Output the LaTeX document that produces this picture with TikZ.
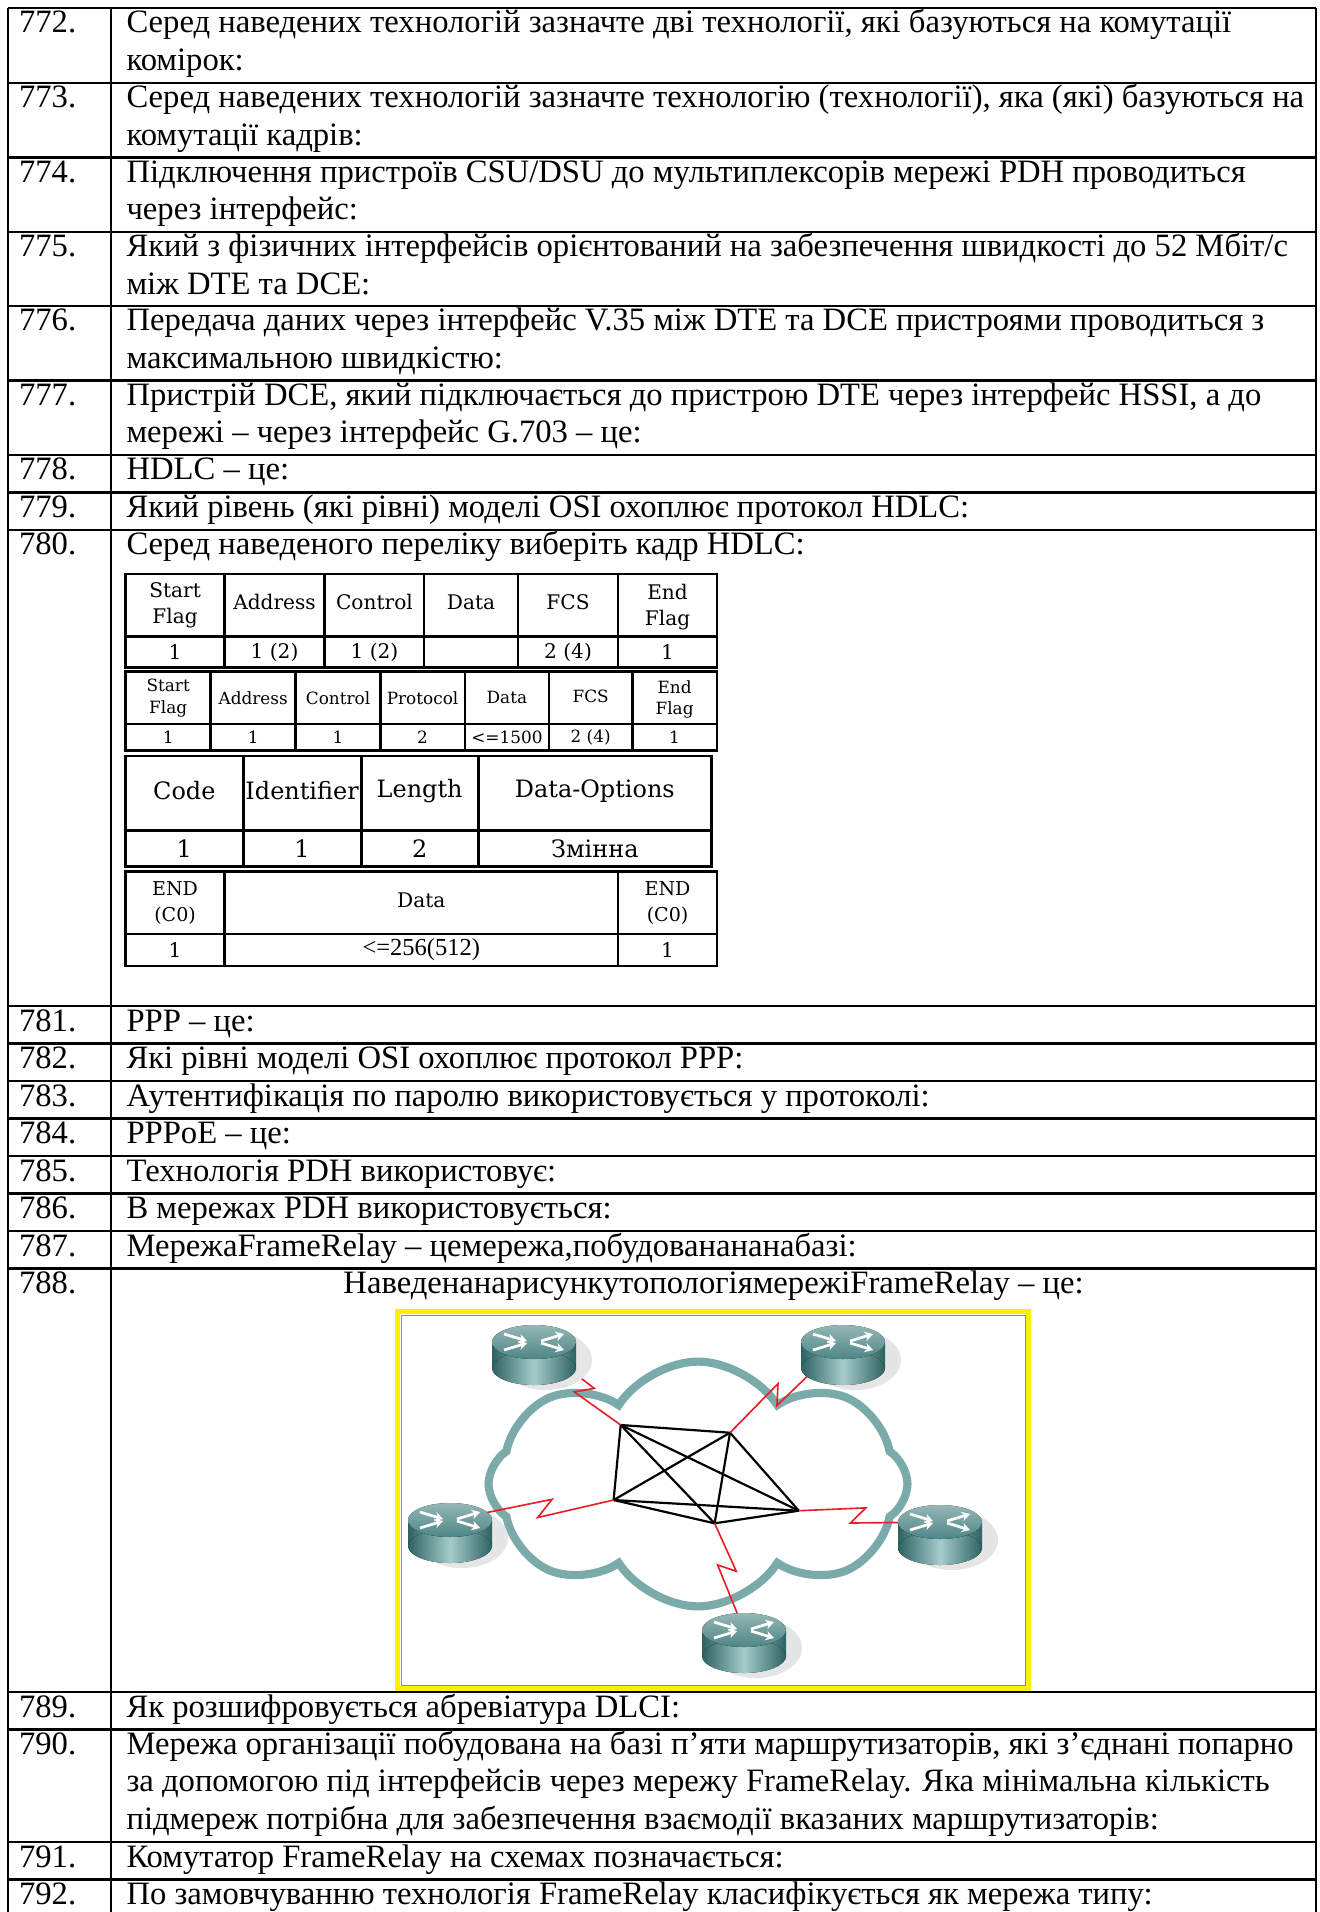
\documentclass[tikz,border=0pt]{standalone}
\usepackage{fontspec}
\setmainfont{Liberation Serif}
\newfontfamily\bookfont{DejaVu Serif}
\usetikzlibrary{shapes.symbols,calc,arrows.meta}

\definecolor{framey}{RGB}{255,240,0}
\definecolor{cloudc}{RGB}{122,170,170}
\definecolor{rdark}{RGB}{45,98,98}
\definecolor{rlight}{RGB}{165,204,202}
\definecolor{rtop}{RGB}{78,134,134}
\definecolor{linkred}{RGB}{232,30,40}

\begin{document}
\begin{tikzpicture}[x=0.3676pt,y=-0.3676pt,
   rule/.style={line width=1pt},
   cell/.style={line width=0.9pt},
   num/.style={anchor=base west,inner sep=0pt,font=\fontsize{12}{14}\selectfont},
   txt/.style={anchor=base west,inner sep=0pt,font=\fontsize{12}{14}\selectfont},
   hd/.style={align=center,inner sep=0pt,font=\bookfont\fontsize{7.4}{9.6}\selectfont},
   hds/.style={align=center,inner sep=0pt,font=\bookfont\fontsize{6.2}{8}\selectfont},
   hdl/.style={align=center,inner sep=0pt,font=\bookfont\fontsize{8.8}{10.5}\selectfont},
   link/.style={linkred,line width=0.6pt},
   mesh/.style={black,line width=0.8pt},
   router/.pic={
     \fill[black!10] (12,18) ellipse [x radius=46,y radius=30];
     \fill[left color=rdark,right color=rdark,middle color=rlight] (-42,0) rectangle (42,26);
     \fill[left color=rdark,right color=rdark,middle color=rlight] (0,26) ellipse [x radius=42,y radius=17];
     \fill[top color=rtop!60!white,bottom color=rtop] (0,0) ellipse [x radius=42,y radius=17];
     \draw[white,line width=1pt,-{Stealth[length=3pt,width=3.5pt]}] (-30,-8) -- (-7,-1);
     \draw[white,line width=1pt,-{Stealth[length=3pt,width=3.5pt]}] (-30,8) -- (-7,1);
     \draw[white,line width=1pt,-{Stealth[length=3pt,width=3.5pt]}] (7,-1) -- (30,-8);
     \draw[white,line width=1pt,-{Stealth[length=3pt,width=3.5pt]}] (7,1) -- (30,8);
   }]
\useasboundingbox (0,0) rectangle (1319,1912);

\foreach \y in {8,83,157.5,232,306,380.5,455,492.5,530,1006,1043.5,1081,1118.5,1156,1193.5,1231,1268.5,1692,1729.5,1842,1879.5,1917}
  \draw[rule] (8,\y) -- (1316,\y);
\foreach \x in {8,111,1316}
  \draw[rule] (\x,8) -- (\x,1917);

\node[num] (n772) at (18.5,33) {772.};
\node[txt] (q772) at (126,33) {Серед наведених технологій зазначте дві технології, які базуються на комутації};
\node[txt] (q772b) at (126,70.4) {комірок:};
\node[num] (n773) at (18.5,108) {773.};
\node[txt] (q773) at (126,108) {Серед наведених технологій зазначте технологію (технології), яка (які) базуються на};
\node[txt] (q773b) at (126,145.4) {комутації кадрів:};
\node[num] (n774) at (18.5,182.5) {774.};
\node[txt] (q774) at (126,182.5) {Підключення пристроїв CSU/DSU до мультиплексорів мережі PDH проводиться};
\node[txt] (q774b) at (126,219.9) {через інтерфейс:};
\node[num] (n775) at (18.5,257) {775.};
\node[txt] (q775) at (126,257) {Який з фізичних інтерфейсів орієнтований на забезпечення швидкості до 52 Мбіт/с};
\node[txt] (q775b) at (126,294.4) {між DTE та DCE:};
\node[num] (n776) at (18.5,331) {776.};
\node[txt] (q776) at (126,331) {Передача даних через інтерфейс V.35 між DTE та DCE пристроями проводиться з};
\node[txt] (q776b) at (126,368.4) {максимальною швидкістю:};
\node[num] (n777) at (18.5,405.5) {777.};
\node[txt] (q777) at (126,405.5) {Пристрій DCE, який підключається до пристрою DTE через інтерфейс HSSI, а до};
\node[txt] (q777b) at (126,442.9) {мережі – через інтерфейс G.703 – це:};
\node[num] (n778) at (18.5,480) {778.};
\node[txt] (q778) at (126,480) {HDLC – це:};
\node[num] (n779) at (18.5,517.5) {779.};
\node[txt] (q779) at (126,517.5) {Який рівень (які рівні) моделі OSI охоплює протокол HDLC:};
\node[num] (n780) at (18.5,555) {780.};
\node[txt] (q780) at (126,555) {Серед наведеного переліку виберіть кадр HDLC:};

\draw[cell] (125.7,574) rectangle (716.9,667.3);
\draw[cell] (125.7,636.7) -- (716.9,636.7);
\foreach \x in {224.4,324.7,424.2,517.9,618.2}
  \draw[cell] (\x,574) -- (\x,667.3);
\node[hd] (h1a) at (175.05,605.3) {Start\\Flag};
\node[hd] (h1b) at (274.55,602) {Address};
\node[hd] (h1c) at (374.45,602) {Control};
\node[hd] (h1d) at (471.05,602) {Data};
\node[hd] (h1e) at (568.05,602) {FCS};
\node[hd] (h1f) at (667.55,607) {End\\Flag};
\node[hd] (v1a) at (175.05,652) {1};
\node[hd] (v1b) at (274.55,652) {1 (2)};
\node[hd] (v1c) at (374.45,652) {1 (2)};
\node[hd] (v1e) at (568.05,652) {2 (4)};
\node[hd] (v1f) at (667.55,652) {1};

\draw[cell] (125.7,671.7) rectangle (716.9,750.7);
\draw[cell] (125.7,724) -- (716.9,724);
\foreach \x in {210.7,295.7,380.3,464.8,549,632.3}
  \draw[cell] (\x,671.7) -- (\x,750.7);
\node[hds] (h2a) at (168.2,697.9) {Start\\Flag};
\node[hds] (h2b) at (253.2,697.9) {Address};
\node[hds] (h2c) at (338,697.9) {Control};
\node[hds] (h2d) at (422.55,697.9) {Protocol};
\node[hds] (h2e) at (506.9,697.9) {Data};
\node[hds] (h2f) at (590.65,696) {FCS};
\node[hds] (h2g) at (674.6,699.5) {End\\Flag};
\node[hds] (v2a) at (168.2,737.3) {1};
\node[hds] (v2b) at (253.2,737.3) {1};
\node[hds] (v2c) at (338,737.3) {1};
\node[hds] (v2d) at (422.55,737.3) {2};
\node[hds] (v2e) at (506.9,737.3) {<=1500};
\node[hds] (v2f) at (590.65,737.3) {2 (4)};
\node[hds] (v2g) at (674.6,737.3) {1};

\draw[cell,line width=1.1pt] (125.7,756) rectangle (711.5,866.7);
\draw[cell,line width=1.1pt] (125.7,830) -- (711.5,830);
\foreach \x in {243,361.2,478.1}
  \draw[cell,line width=1.1pt] (\x,756) -- (\x,866.7);
\node[hdl] (h3a) at (184.35,791) {Code};
\node[hdl] (h3b) at (302.1,791) {Identifier};
\node[hdl] (h3c) at (419.65,791) {Length};
\node[hdl] (h3d) at (594.8,791) {Data-Options};
\node[hdl] (v3a) at (184.35,848.3) {1};
\node[hdl] (v3b) at (302.1,848.3) {1};
\node[hdl] (v3c) at (419.65,848.3) {2};
\node[hdl] (v3d) at (594.8,848.3) {Змінна};

\draw[cell] (125.7,871.7) rectangle (716.9,966);
\draw[cell] (125.7,934) -- (716.9,934);
\foreach \x in {224.4,618.2}
  \draw[cell] (\x,871.7) -- (\x,966);
\node[hd,font=\bookfont\fontsize{7}{9.4}\selectfont] (h4a) at (175.05,902.8) {END\\(C0)};
\node[hd] (h4b) at (421.3,900) {Data};
\node[hd,font=\bookfont\fontsize{7}{9.4}\selectfont] (h4c) at (667.55,902.8) {END\\(C0)};
\node[hd] (v4a) at (175.05,950) {1};
\node[hd,font=\fontsize{9}{10}\selectfont] (v4b) at (421.3,950) {<=256(512)};
\node[hd] (v4c) at (667.55,950) {1};

\node[num] (n781) at (18.5,1031) {781.};
\node[txt] (q781) at (126,1031) {PPP – це:};
\node[num] (n782) at (18.5,1068.5) {782.};
\node[txt] (q782) at (126,1068.5) {Які рівні моделі OSI охоплює протокол PPP:};
\node[num] (n783) at (18.5,1106) {783.};
\node[txt] (q783) at (126,1106) {Аутентифікація по паролю використовується у протоколі:};
\node[num] (n784) at (18.5,1143.5) {784.};
\node[txt] (q784) at (126,1143.5) {PPPoE – це:};
\node[num] (n785) at (18.5,1181) {785.};
\node[txt] (q785) at (126,1181) {Технологія PDH використовує:};
\node[num] (n786) at (18.5,1218.5) {786.};
\node[txt] (q786) at (126,1218.5) {В мережах PDH використовується:};
\node[num] (n787) at (18.5,1256) {787.};
\node[txt] (q787) at (126,1256) {МережаFrameRelay – цемережа,побудованананабазі:};
\node[num] (n788) at (18.5,1293.5) {788.};
\node[txt,anchor=base] (q788) at (713.5,1293.5) {НаведенанарисункутопологіямережіFrameRelay – це:};

\draw[framey,line width=1.6pt] (397.5,1311.5) rectangle (1028.5,1688.5);
\draw[black!45,line width=0.3pt] (401,1315) rectangle (1025,1685);
\node[cloud,cloud puffs=8,cloud puff arc=115,aspect=1.75,draw=cloudc,line width=3pt,minimum width=154pt,minimum height=90pt,inner sep=0pt] (fr) at (698,1484) {};

\coordinate (m1) at (620.7,1425);
\coordinate (m2) at (730,1432.7);
\coordinate (m3) at (613.6,1500);
\coordinate (m4) at (798.8,1510.7);
\coordinate (m5) at (714.6,1523.3);
\coordinate (r1) at (534,1342);
\coordinate (r2) at (843,1342);
\coordinate (r3) at (450,1520);
\coordinate (r4) at (940,1522);
\coordinate (r5) at (744,1630);
\foreach \a/\b in {m1/m2,m1/m3,m1/m4,m1/m5,m2/m3,m2/m4,m2/m5,m3/m4,m3/m5,m4/m5}
  \draw[mesh] (\a) -- (\b);
\foreach \ma/\ro in {m1/r1,m2/r2,m3/r3,m4/r4,m5/r5}
  \draw[link] (\ma) -- ($(\ma)!0.47!(\ro)!3pt!90:(\ro)$) -- ($(\ma)!0.37!(\ro)!3pt!-90:(\ro)$) -- (\ro);
\pic (rt1) at (r1) {router};
\pic (rt2) at (r2) {router};
\pic (rt3) at (r3) {router};
\pic (rt4) at (r4) {router};
\pic (rt5) at (r5) {router};

\node[num] (n789) at (18.5,1717) {789.};
\node[txt] (q789) at (126,1717) {Як розшифровується абревіатура DLCI:};
\node[num] (n790) at (18.5,1754.5) {790.};
\node[txt] (q790) at (126,1754.5) {Мережа організації побудована на базі п’яти маршрутизаторів, які з’єднані попарно};
\node[txt] (q790b) at (126,1791.9) {за допомогою під інтерфейсів через мережу FrameRelay. Яка мінімальна кількість};
\node[txt] (q790c) at (126,1829.3) {підмереж потрібна для забезпечення взаємодії вказаних маршрутизаторів:};
\node[num] (n791) at (18.5,1867) {791.};
\node[txt] (q791) at (126,1867) {Комутатор FrameRelay на схемах позначається:};
\node[num] (n792) at (18.5,1904.5) {792.};
\node[txt] (q792) at (126,1904.5) {По замовчуванню технологія FrameRelay класифікується як мережа типу:};
\end{tikzpicture}
\end{document}
